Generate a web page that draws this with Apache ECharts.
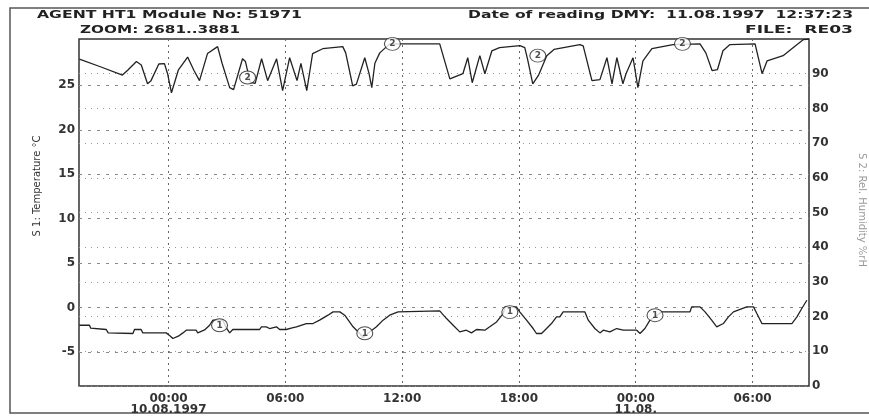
<!DOCTYPE html>
<html>
<head>
<meta charset="utf-8">
<script src="https://cdn.jsdelivr.net/npm/echarts@6/dist/echarts.min.js"></script>
<style>
  html, body { margin: 0; padding: 0; background: #fff; }
  #chart { width: 869px; height: 416px; }
</style>
</head>
<body>
<div id="chart"></div>
<script>
// Time axis: hours counted from 10.08.1997 00:00
const timeTicks = [0, 6, 12, 18, 24, 30];
const timeTickLabels = ['00:00\n10.08.1997', '06:00', '12:00', '18:00', '00:00\n11.08.', '06:00'];

// S1 temperature axis ticks (°C) and S2 humidity axis ticks (%rH)
const tempTicks = [-5, 0, 5, 10, 15, 20, 25];
const humTicks = [0, 10, 20, 30, 40, 50, 60, 70, 80, 90];

// S2: relative humidity
const humHours = [-4.58, -3.5, -2.37, -2.1, -1.65, -1.4, -1.08, -0.9, -0.5, -0.21, -0.05, 0.15, 0.5, 0.98, 1.3, 1.59,
  2.0, 2.52, 2.75, 3.14, 3.34, 3.8, 3.95, 4.2, 4.45, 4.78, 5.09, 5.55, 5.86, 6.22, 6.6, 6.8, 7.1, 7.4, 7.92, 8.95,
  9.1, 9.46, 9.65, 10.08, 10.3, 10.44, 10.6, 10.85, 11.36, 12.03, 13.93, 14.45, 15.12, 15.37, 15.6, 15.99, 16.25,
  16.61, 17.0, 18.05, 18.3, 18.45, 18.71, 19.0, 19.43, 19.8, 21.13, 21.3, 21.75, 22.16, 22.52, 22.78, 23.03, 23.34,
  23.5, 23.86, 24.11, 24.37, 24.83, 25.91, 27.3, 27.6, 27.92, 28.2, 28.48, 28.84, 30.13, 30.49, 30.75, 31.57, 32.08,
  32.6, 32.9];
const humValues = [94.2, 92.0, 89.6, 91.0, 93.5, 92.5, 87.1, 88.0, 92.8, 92.9, 90.0, 84.5, 91.0, 94.8, 91.0, 88.0,
  95.8, 97.8, 93.0, 86.0, 85.4, 94.3, 93.5, 87.5, 87.2, 94.3, 88.0, 94.3, 85.1, 94.6, 88.0, 93.0, 85.1, 95.8, 97.2, 97.8,
  96.0, 86.5, 87.0, 94.6, 90.0, 86.0, 93.0, 96.0, 98.6, 98.6, 98.6, 88.5, 90.0, 94.6, 87.4, 95.2, 90.0,
  96.6, 97.5, 98.1, 97.5, 94.0, 87.1, 89.5, 95.2, 97.0, 98.4, 98.0, 88.0, 88.3, 94.6, 87.1, 94.6, 87.1,
  90.0, 94.6, 86.0, 93.7, 97.2, 98.4, 98.6, 96.0, 90.9, 91.2, 96.6, 98.4, 98.6, 90.0, 93.7, 95.2, 97.5,
  99.8, 100];

// S1: temperature
const tempHours = [-4.58, -4.06, -4.0, -3.2, -3.1, -1.83, -1.75, -1.41, -1.32, -0.12, 0.1, 0.22, 0.5, 0.74, 0.91, 1.42,
  1.5, 1.59, 1.85, 2.11, 2.28, 2.79, 2.95, 3.14, 3.3, 3.65, 4.68, 4.77, 5.02, 5.19, 5.54, 5.71, 6.05, 6.3, 6.57, 7.08,
  7.42, 7.76, 8.19, 8.45, 8.8, 9.05, 9.48, 9.82, 9.99, 10.33, 10.68, 11.02, 11.36, 11.79, 11.88, 13.93, 14.28, 14.62,
  14.96, 15.3, 15.56, 15.82, 16.25, 16.5, 16.85, 17.19, 17.28, 17.87, 18.04, 18.39, 18.73, 18.9, 19.16, 19.42, 19.67,
  19.93, 20.1, 20.27, 21.39, 21.56, 21.9, 22.16, 22.33, 22.67, 23.02, 23.36, 24.05, 24.22, 24.47, 24.73, 25.33, 26.79,
  26.87, 27.3, 27.56, 27.9, 28.16, 28.5, 28.76, 29.02, 29.7, 30.05, 30.22, 30.48, 32.02, 32.28, 32.53, 32.79];
const tempValues = [-1.97, -1.97, -2.3, -2.45, -2.83, -2.9, -2.45, -2.45, -2.83, -2.83, -3.2, -3.46, -3.2, -2.83, -2.53, -2.53,
  -2.83, -2.83, -2.5, -1.97, -1.4, -1.4, -2.2, -2.83, -2.45, -2.45, -2.45, -2.15, -2.15, -2.34, -2.15, -2.45, -2.45, -2.3, -2.15, -1.78,
  -1.78, -1.4, -0.84, -0.47, -0.47, -0.84, -2.15, -2.9, -3.35, -2.72, -2.15, -1.4, -0.84, -0.47, -0.36, -0.36, -1.22, -1.97,
  -2.72, -2.53, -2.83, -2.45, -2.53, -2.15, -1.6, -0.66, 0.09, 0.09, -0.47, -1.4, -2.34, -2.9, -2.9, -2.34, -1.78,
  -1.03, -1.03, -0.47, -0.47, -1.4, -2.34, -2.83, -2.53, -2.72, -2.34, -2.53, -2.53, -2.9, -2.34, -1.4, -0.47, -0.47,
  0.09, 0.09, -0.47, -1.4, -2.15, -1.78, -1.03, -0.47, 0.09, 0.09, -0.66, -1.78, -1.78, -1.03, -0.09, 0.84];

// Channel markers along each trace
const mark1Hours = [2.62, 10.08, 17.53, 24.99];
const mark1Values = [-1.97, -2.87, -0.5, -0.84];
const mark2Hours = [4.06, 11.5, 18.97, 26.4];
const mark2Values = [88.9, 98.6, 95.2, 98.6];

const zip = (xs, ys) => xs.map((x, i) => [x, ys[i]]);

const FONT = 'DejaVu Sans';
const INK = '#222';

// Stretch header text horizontally to a target width
const measureCtx = document.createElement('canvas').getContext('2d');
function headerText(text, left, right, y, size) {
  const font = 'bold ' + size + 'px "' + FONT + '"';
  measureCtx.font = font;
  const w = measureCtx.measureText(text).width;
  const width = right - left;
  return {
    type: 'text', x: left, y: y, scaleX: width / w, scaleY: 1,
    style: { text: text, font: font, fill: INK, align: 'left', verticalAlign: 'middle' }
  };
}

const chart = echarts.init(document.getElementById('chart'), null, { renderer: 'canvas' });

const markerSeries = (name, hours, values, text, axisIndex) => ({
  name: name, type: 'scatter', yAxisIndex: axisIndex, z: 5,
  symbol: 'circle', symbolSize: [16, 13],
  itemStyle: { color: '#fff', borderColor: INK, borderWidth: 1 },
  label: { show: true, position: 'inside', formatter: text, color: INK, fontFamily: FONT, fontSize: 9, fontWeight: 'bold' },
  data: zip(hours, values)
});

const axisFont = { color: '#333', fontFamily: FONT, fontSize: 12, fontWeight: 'bold' };

chart.setOption({
  animation: false,
  backgroundColor: '#fff',
  grid: { left: 79, right: 60, top: 39, bottom: 30, show: true, borderColor: '#333', borderWidth: 1.5, backgroundColor: 'transparent' },
  xAxis: {
    type: 'value', min: -4.6, max: 32.9,
    axisLine: { show: false },
    axisTick: { show: false, customValues: timeTicks },
    axisLabel: Object.assign({
      customValues: timeTicks, margin: 7, lineHeight: 11,
      formatter: v => timeTickLabels[timeTicks.indexOf(v)]
    }, axisFont),
    splitLine: { show: true, lineStyle: { color: '#666', type: [2, 4], width: 1 } }
  },
  yAxis: [
    {
      type: 'value', position: 'left', min: -8.8, max: 30.2,
      axisLine: { show: false },
      axisTick: { show: false, customValues: tempTicks },
      axisLabel: Object.assign({ customValues: tempTicks, margin: 4 }, axisFont),
      splitLine: { show: true, lineStyle: { color: '#888', type: [3, 6], width: 1 } }
    },
    {
      type: 'value', position: 'right', min: 0, max: 100,
      axisLine: { show: false },
      axisTick: { show: false, customValues: humTicks },
      axisLabel: Object.assign({ customValues: humTicks, margin: 3 }, axisFont),
      splitLine: { show: true, lineStyle: { color: '#999', type: [1, 5], width: 1 } }
    }
  ],
  series: [
    {
      name: 'S 2', type: 'line', yAxisIndex: 1, showSymbol: false,
      lineStyle: { color: INK, width: 1.3 }, data: zip(humHours, humValues)
    },
    {
      name: 'S 1', type: 'line', yAxisIndex: 0, showSymbol: false,
      lineStyle: { color: INK, width: 1.3 }, data: zip(tempHours, tempValues)
    },
    markerSeries('S 1 marker', mark1Hours, mark1Values, '1', 0),
    markerSeries('S 2 marker', mark2Hours, mark2Values, '2', 1)
  ],
  graphic: [
    { type: 'rect', shape: { x: 10, y: 8, width: 870, height: 405 }, style: { fill: 'none', stroke: '#555', lineWidth: 1.5 } },
    headerText('AGENT HT1 Module No: 51971', 37, 302, 15, 11),
    headerText('ZOOM: 2681..3881', 80, 240, 30, 11),
    headerText('Date of reading DMY:  11.08.1997  12:37:23', 468, 853, 15, 11),
    headerText('FILE:  RE03', 745, 853, 30, 11),
    {
      type: 'text', x: 37, y: 186, rotation: Math.PI / 2,
      style: { text: 'S 1: Temperature °C', font: '10px "' + FONT + '"', fill: '#333', align: 'center', verticalAlign: 'middle' }
    },
    {
      type: 'text', x: 862, y: 210, rotation: -Math.PI / 2,
      style: { text: 'S 2: Rel. Humidity %rH', font: '10px "' + FONT + '"', fill: '#999', align: 'center', verticalAlign: 'middle' }
    }
  ]
});
</script>
</body>
</html>
